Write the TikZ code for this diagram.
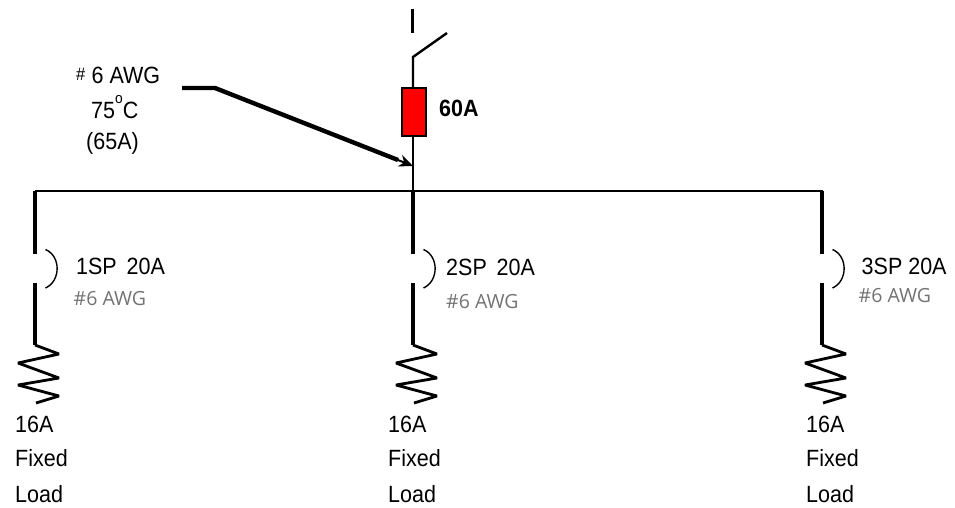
\documentclass[tikz,border=0pt]{standalone}
\usepackage{fontspec}
\setmainfont[FakeStretch=0.915]{Liberation Sans}
\newfontfamily\lightfont{Open Sans}
\usetikzlibrary{arrows.meta}
\tikzset{
  x=1pt,y=-1pt,
  wire/.style={line width=2.4pt,black},
  drop/.style={line width=3.2pt,black},
  lbl/.style={inner sep=0pt,anchor=base west,font=\fontsize{23.5}{26}\selectfont},
  awg/.style={inner sep=0pt,anchor=base west,text=black!55,font=\lightfont\fontsize{19.5}{22}\selectfont},
  fuse/.style={draw=black,line width=2pt,fill=red,minimum width=24pt,minimum height=48pt,inner sep=0pt},
  pointer/.style={line width=4.4pt,black},
  head/.style={-{Stealth[length=14pt,width=12pt]},line width=2pt,black},
}
\newcommand{\branch}[3]{%
  \coordinate (#2top) at (#1,191);
  \coordinate (#2a) at (#1,254);
  \coordinate (#2b) at (#1,283);
  \coordinate (#2c) at (#1,345);
  \coordinate (#2arcs) at (#1+10.5,249.5);
  \coordinate (#2arce) at (#1+10.5,288);
  \draw[drop] (#2top) -- (#2a);
  \draw[drop] (#2b) -- (#2c);
  \draw[line width=1.4pt,black] (#2arcs) .. controls (#1+26,256) and (#1+26,281) .. (#2arce);
  \draw[wire,line width=2.8pt,line join=bevel] (#2c) -- (#1+24,354) -- (#1-17,363) -- (#1+24,378) -- (#1-17,385) -- (#1+24,396) -- (#1+1,403);
  \node[lbl] (#2load1) at (#1+#3,432) {16A};
  \node[lbl] (#2load2) at (#1+#3,466) {Fixed};
  \node[lbl] (#2load3) at (#1+#3,502) {Load};
}
\begin{document}
\begin{tikzpicture}
\useasboundingbox (0,0) rectangle (955,507);
\fill[white] (0,0) rectangle (955,507);
% top switch
\coordinate (t1) at (412.5,9);
\coordinate (t2) at (412.5,33);
\coordinate (sw) at (413,57);
\coordinate (swend) at (447,33);
\draw[drop] (t1) -- (t2);
\draw[wire] (swend) -- (sw) -- (413,88);
\node[fuse] (fuse) at (414,112) {};
\coordinate (jn) at (413,198);
\draw[wire] (fuse.south -| jn) -- (jn);
\node[lbl,font=\bfseries\fontsize{23.5}{26}\selectfont] (rate) at (439,116) {60A};
% bus
\coordinate (busL) at (35,191);
\coordinate (busR) at (823,191);
\draw[wire] (busL) -- (busR);
% branches
\branch{35}{l}{-20}
\branch{413}{m}{-25}
\branch{822}{r}{-16}
\node[lbl] (ln) at (76,274) {1SP\hspace{0.42em}20A};
\node[awg] (la) at (73.5,305) {\#6 AWG};
\node[lbl] (mn) at (446,275) {2SP\hspace{0.42em}20A};
\node[awg] (ma) at (446,308) {\#6 AWG};
\node[lbl] (rn) at (861.5,274) {3SP 20A};
\node[awg] (ra) at (858.5,302) {\#6 AWG};
% left label
\node[inner sep=0pt,anchor=base west,font=\fontsize{18}{20}\selectfont] (w1) at (76,80) {\#};
\node[lbl] (w1b) at (91.5,83) {6 AWG};
\node[lbl] (w2) at (91,118) {75\raisebox{0.6em}{\fontsize{15}{16}\selectfont o}C};
\node[lbl] (w3) at (86,149) {(65A)};
% pointer
\coordinate (p0) at (182,88);
\coordinate (p1) at (215,88);
\coordinate (p2) at (398,160);
\coordinate (p3) at (413,166);
\draw[pointer] (p0) -- (p1) -- (p2);
\draw[head] (p2) -- (p3);
\end{tikzpicture}
\end{document}
